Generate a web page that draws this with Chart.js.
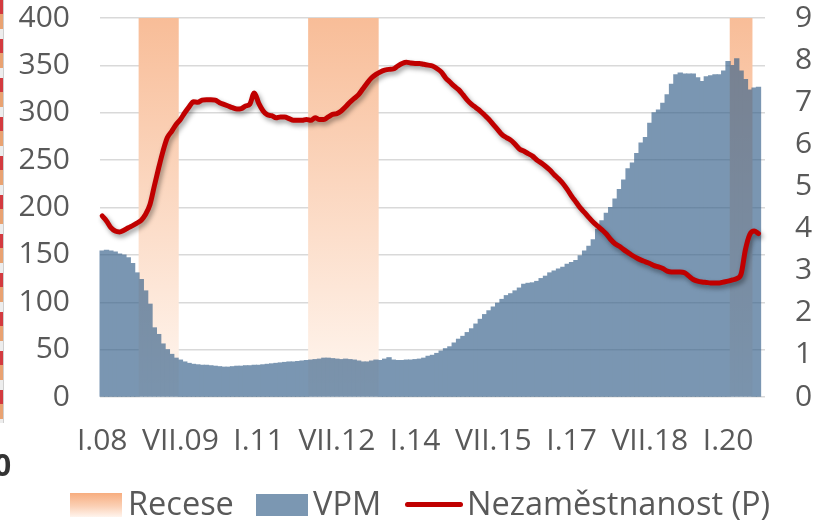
<!DOCTYPE html>
<html>
<head>
<meta charset="utf-8">
<script src="https://cdn.jsdelivr.net/npm/chart.js@4.4.1/dist/chart.umd.min.js"></script>
<style>
  html, body { margin: 0; padding: 0; background: #fff; }
  #wrap { position: relative; width: 813px; height: 522px; overflow: hidden; font-family: "Open Sans", sans-serif; color: #595959; }
  #myChart { position: absolute; left: 0; top: 0; }
  .strip { position: absolute; left: 0; top: 0; width: 3px; height: 423px; border-right: 1px solid #cfcfcf;
    background: repeating-linear-gradient(to bottom, #d33a3f 0 14px, #e9a271 14px 29px, #ededed 29px 39px); }
  .cut { position: absolute; left: -6px; top: 450px; font: bold 30px/30px "Open Sans", sans-serif; color: #333; }
  .lg { position: absolute; font-size: 32.5px; line-height: 32px; top: 487px; white-space: nowrap; }
  .sw { position: absolute; }
</style>
</head>
<body>
<div id="wrap">
  <canvas id="myChart" width="813" height="522"></canvas>
  <div class="strip"></div>
  <div class="cut">0</div>
  <div class="sw" style="left:70px;top:493px;width:52px;height:24px;background:linear-gradient(to bottom,#f7ad7f 0%,#fbd0b5 55%,#fff4ed 100%);"></div>
  <div class="lg" style="left:128px;">Recese</div>
  <div class="sw" style="left:256px;top:494px;width:52px;height:22px;background:#7b97b2;"></div>
  <div class="lg" style="left:313px;">VPM</div>
  <div class="sw" style="left:405px;top:502px;width:58px;height:5px;border-radius:3px;background:#c00000;"></div>
  <div class="lg" style="left:467px;">Nezaměstnanost (P)</div>
</div>
<script>
// months I.08 .. IX.20
const roman = ['I','II','III','IV','V','VI','VII','VIII','IX','X','XI','XII'];
const months = [];
for (let i = 0; i < 153; i++) {
    months.push(roman[i % 12] + '.' + String(8 + Math.floor(i / 12)).padStart(2, '0'));
}
const tickLabels = ['I.08', 'VII.09', 'I.11', 'VII.12', 'I.14', 'VII.15', 'I.17', 'VII.18', 'I.20'];

// recession periods
const recessionFrom = ['X.08', 'I.12', 'II.20'];
const recessionTo = ['VI.09', 'IV.13', 'VI.20'];

// volná pracovní místa (tis.)
const vpm = [
    154, 155, 154, 153, 151, 150, 147, 141, 131, 124, 112, 98,
    73, 66, 56, 50, 45, 41, 39, 37, 35.5, 34.5, 34, 33.5,
    33.5, 33, 32.5, 32, 31.5, 31.5, 32, 32.5, 32.5, 33, 33, 33.5,
    33.5, 34, 34.5, 35, 35.5, 36, 36.5, 37, 37, 37.5, 38, 38.5,
    39, 39.5, 40, 41, 41, 40.5, 40, 39.5, 40, 39.5, 39, 38,
    37, 37, 38, 39, 38.5, 40, 41.5, 39, 38.5, 38.5, 39, 39,
    39.5, 40, 41, 43, 44, 46, 48.5, 51, 53, 57, 61, 64,
    68, 72, 77, 82, 87, 91, 95, 99, 103, 107, 109, 112,
    115, 119, 120, 120.5, 122, 125, 127.5, 131, 133, 135, 137, 140,
    142, 144, 149, 154, 159, 166, 177, 186, 194, 200, 209, 219,
    229, 241, 247, 257, 268, 274, 289, 300, 303, 310, 319, 330,
    340, 342, 341, 341, 341, 337, 333, 338, 339, 340, 340, 344,
    354, 350, 357, 344, 335, 324, 326, 327
];

// míra nezaměstnanosti (%), pravá osa
const unemployment = [
    4.30, 4.18, 4.02, 3.94, 3.92, 3.96, 4.02, 4.07, 4.13, 4.20, 4.34, 4.57,
    5.01, 5.44, 5.84, 6.16, 6.31, 6.47, 6.59, 6.75, 6.89, 7.01, 7.00, 7.05,
    7.06, 7.06, 7.05, 6.99, 6.95, 6.91, 6.87, 6.84, 6.85, 6.91, 6.96, 7.22,
    6.98, 6.80, 6.70, 6.68, 6.63, 6.65, 6.65, 6.61, 6.57, 6.57, 6.57, 6.59,
    6.57, 6.63, 6.59, 6.59, 6.65, 6.71, 6.73, 6.79, 6.89, 7.00, 7.09, 7.18,
    7.32, 7.46, 7.58, 7.66, 7.72, 7.76, 7.78, 7.79, 7.86, 7.92, 7.95, 7.93,
    7.92, 7.92, 7.90, 7.88, 7.86, 7.80, 7.72, 7.58, 7.48, 7.38, 7.30, 7.18,
    7.05, 6.95, 6.87, 6.79, 6.69, 6.59, 6.47, 6.35, 6.23, 6.16, 6.10, 6.00,
    5.89, 5.84, 5.78, 5.72, 5.63, 5.56, 5.48, 5.39, 5.28, 5.18, 5.07, 4.93,
    4.77, 4.63, 4.49, 4.38, 4.26, 4.15, 4.06, 3.97, 3.87, 3.74, 3.64, 3.58,
    3.50, 3.43, 3.36, 3.30, 3.25, 3.21, 3.17, 3.12, 3.09, 3.05, 2.99, 2.97,
    2.97, 2.97, 2.95, 2.87, 2.79, 2.75, 2.73, 2.72, 2.71, 2.71, 2.71, 2.73,
    2.75, 2.78, 2.81, 2.92, 3.50, 3.86, 3.94, 3.88
];

const recese = months.map((m, i) => {
    for (let r = 0; r < recessionFrom.length; r++) {
        if (i >= months.indexOf(recessionFrom[r]) && i <= months.indexOf(recessionTo[r])) return 400;
    }
    return null;
});

const textColor = '#595959';
const tickFont = { family: 'Open Sans', size: 30 };

// draw VPM bars as one translucent layer (no seams between bars)
const vpmLayer = {
    id: 'vpmLayer',
    beforeDatasetDraw(chart, args) {
        if (chart.data.datasets[args.index].label !== 'VPM') return;
        const off = document.createElement('canvas');
        off.width = chart.canvas.width;
        off.height = chart.canvas.height;
        const octx = off.getContext('2d');
        const r = chart.currentDevicePixelRatio;
        octx.scale(r, r);
        args.meta.data.forEach(bar => bar.draw(octx));
        const ctx = chart.ctx;
        ctx.save();
        ctx.setTransform(1, 0, 0, 1, 0, 0);
        ctx.globalAlpha = 0.65;
        ctx.drawImage(off, 0, 0);
        ctx.restore();
        return false;
    }
};

// soft shadow under the unemployment line
const lineShadow = {
    id: 'lineShadow',
    beforeDatasetDraw(chart, args) {
        if (chart.data.datasets[args.index].type !== 'line') return;
        const ctx = chart.ctx;
        ctx.save();
        ctx.shadowColor = 'rgba(0,0,0,0.4)';
        ctx.shadowBlur = 5;
        ctx.shadowOffsetX = 2;
        ctx.shadowOffsetY = 3;
    },
    afterDatasetDraw(chart, args) {
        if (chart.data.datasets[args.index].type !== 'line') return;
        chart.ctx.restore();
    }
};

const ctx = document.getElementById('myChart').getContext('2d');
const myChart = new Chart(ctx, {
    type: 'bar',
    data: {
        labels: months,
        datasets: [{
            type: 'line',
            label: 'Nezaměstnanost (P)',
            data: unemployment,
            yAxisID: 'y1',
            borderColor: '#c00000',
            borderWidth: 5,
            borderCapStyle: 'round',
            borderJoinStyle: 'round',
            pointRadius: 0,
            cubicInterpolationMode: 'monotone',
            order: 1
        }, {
            label: 'VPM',
            data: vpm,
            yAxisID: 'y',
            backgroundColor: 'rgb(52,95,137)',
            barPercentage: 1,
            categoryPercentage: 1,
            inflateAmount: 0.5,
            grouped: false,
            order: 2
        }, {
            label: 'Recese',
            data: recese,
            yAxisID: 'y',
            backgroundColor: function(c) {
                const area = c.chart.chartArea;
                if (!area) return 'rgb(248,189,152)';
                const g = c.chart.ctx.createLinearGradient(0, area.top, 0, area.bottom);
                g.addColorStop(0, 'rgb(248,189,152)');
                g.addColorStop(1, 'rgb(255,247,241)');
                return g;
            },
            barPercentage: 1,
            categoryPercentage: 1,
            inflateAmount: 0.5,
            grouped: false,
            order: 3
        }]
    },
    options: {
        responsive: false,
        animation: false,
        layout: { padding: { left: 0, right: 0, top: 0, bottom: 65 } },
        plugins: {
            legend: { display: false },
            tooltip: { enabled: false }
        },
        scales: {
            x: {
                grid: { display: false },
                border: { display: false },
                ticks: {
                    autoSkip: false,
                    maxRotation: 0,
                    minRotation: 0,
                    padding: 18,
                    color: textColor,
                    font: tickFont,
                    callback: function(v, i) {
                        return tickLabels.includes(months[i]) ? months[i] : '';
                    }
                },
                afterFit: s => { s.height = 60; }
            },
            y: {
                position: 'left',
                min: 0,
                max: 400,
                ticks: { stepSize: 50, padding: 30, autoSkip: false, color: textColor, font: tickFont },
                grid: { color: '#d9d9d9', lineWidth: 1.5, drawTicks: false },
                border: { display: false },
                afterFit: s => { s.width = 100; s.paddingTop = 18; s.paddingBottom = 18; }
            },
            y1: {
                position: 'right',
                min: 0,
                max: 9,
                ticks: { stepSize: 1, padding: 30, autoSkip: false, color: textColor, font: tickFont },
                grid: { display: false, drawTicks: false },
                border: { display: false },
                afterFit: s => { s.width = 48; s.paddingTop = 18; s.paddingBottom = 18; }
            }
        }
    },
    plugins: [vpmLayer, lineShadow]
});
</script>
</body>
</html>
